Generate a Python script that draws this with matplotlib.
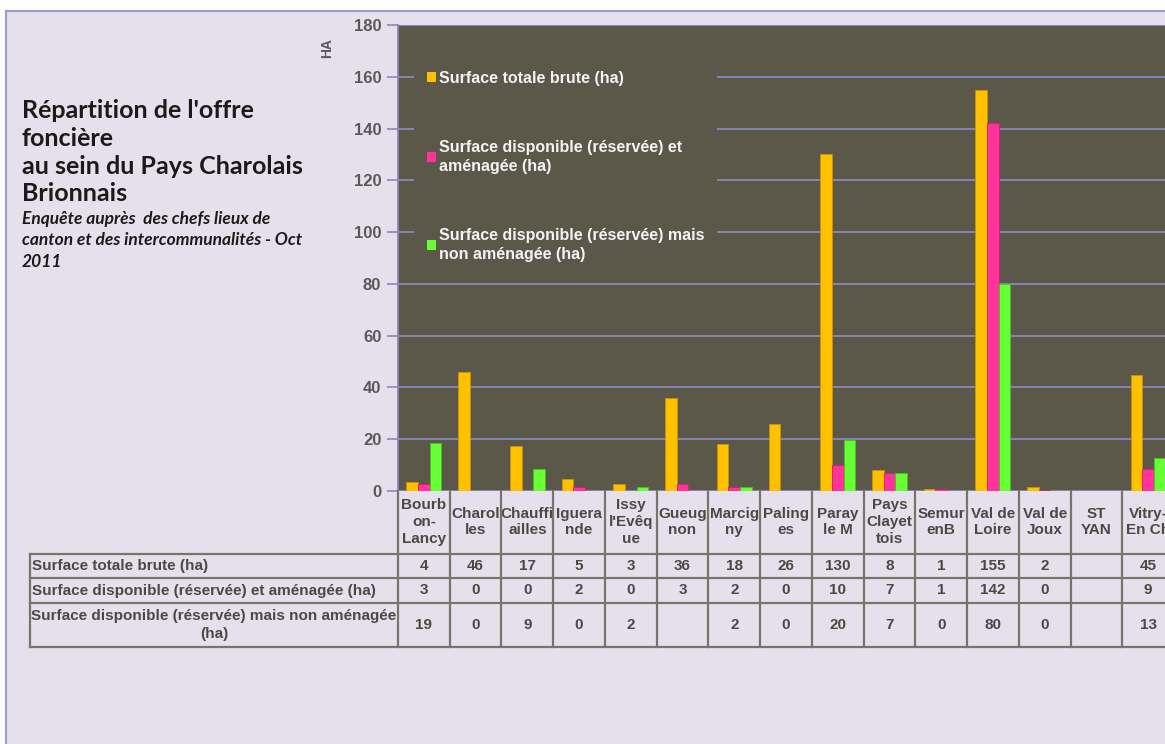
import numpy as np
import matplotlib
matplotlib.use("Agg")
from matplotlib import pyplot as plt
from matplotlib import transforms
from matplotlib.lines import Line2D
from matplotlib.patches import Patch, Rectangle

# values (bars); the table shows them rounded
communes = [
    "Bourb\non-\nLancy", "Charol\nles", "Chauffi\nailles", "Iguera\nnde",
    "Issy\nl'Evêq\nue", "Gueug\nnon", "Marcig\nny", "Paling\nes",
    "Paray\nle M", "Pays\nClayet\ntois", "Semur\nenB", "Val de\nLoire",
    "Val de\nJoux", "ST\nYAN", "Vitry-\nEn Ch",
]
surface_totale = [3.6, 46, 17.3, 4.6, 2.6, 36, 18, 26, 130, 8.1, 0.6, 155, 1.7, np.nan, 45]
surface_amenagee = [2.8, 0, 0, 1.7, 0, 2.8, 1.5, 0, 9.9, 6.9, 0.6, 142, 0.4, np.nan, 8.6]
surface_non_amenagee = [18.5, 0, 8.6, 0, 1.7, np.nan, 1.7, 0, 19.6, 6.9, 0, 80, 0, np.nan, 12.7]

legend_labels = [
    "Surface totale brute (ha)",
    "Surface disponible (réservée) et\naménagée (ha)",
    "Surface disponible (réservée) mais\nnon aménagée (ha)",
]
row_labels = [
    "Surface totale brute (ha)",
    "Surface disponible (réservée) et aménagée (ha)",
    "Surface disponible (réservée) mais non aménagée\n(ha)",
]
y_ticks = [0, 20, 40, 60, 80, 100, 120, 140, 160, 180]

colors = ["#ffc000", "#ff3399", "#66ff33"]
edge_colors = ["#c89400", "#d02070", "#4cc020"]
plot_bg = "#5b5749"
panel_bg = "#e6e0ec"
grid_col = "#8a88bc"
text_gray = "#595959"
table_col = "#77756a"

W, H = 1165, 744
fig = plt.figure(figsize=(W / 100, H / 100), dpi=100, facecolor="white")

# lavender panel with purple border
fig.add_artist(Rectangle((6 / W, -0.01), 1.0, 1 - 11 / H + 0.01, transform=fig.transFigure,
                         facecolor=panel_bg, edgecolor="#9c9ccc", linewidth=1.5, zorder=-5))

ax = fig.add_axes([398 / W, 1 - 491 / H, (1174 - 398) / W, (491 - 25) / H])
ax.set_facecolor(plot_bg)

x = np.arange(len(communes))
bw = 0.225
all_series = [surface_totale, surface_amenagee, surface_non_amenagee]
for k, vals in enumerate(all_series):
    ax.bar(x + (k - 1) * bw, vals, width=bw, color=colors[k], edgecolor=edge_colors[k],
           linewidth=0.6, zorder=3)

ax.set_xlim(-0.5, len(communes) - 0.5)
ax.set_ylim(0, 180)
ax.set_yticks(y_ticks)
ax.set_yticklabels([str(t) for t in y_ticks], fontsize=12, fontweight="bold", color=text_gray,
                   family="Liberation Sans")
ax.tick_params(axis="y", length=8, width=1.2, color=grid_col, pad=4)
ax.set_xticks([])
ax.yaxis.grid(True, color=grid_col, linewidth=1.3, zorder=1)
ax.set_axisbelow(True)
for side in ["top", "right", "bottom"]:
    ax.spines[side].set_visible(False)
ax.spines["left"].set_color(grid_col)
ax.spines["left"].set_linewidth(1.3)

fig.text(327 / W, 1 - 48 / H, "HA", rotation=90, ha="center", va="center", fontsize=10,
         fontweight="bold", color=text_gray, family="Liberation Sans")

handles = [Patch(facecolor=c, edgecolor="none") for c in colors]
leg = ax.legend(handles, legend_labels, loc="upper left", bbox_to_anchor=(414 / W, 1 - 58 / H),
                bbox_transform=fig.transFigure, frameon=True, facecolor=plot_bg, edgecolor="none",
                framealpha=1, fancybox=False, handlelength=0.55, handleheight=0.55,
                handletextpad=0.2, labelspacing=3.4, borderaxespad=0, borderpad=0.8,
                prop={"family": "Liberation Sans", "weight": "bold", "size": 11.5})
for t in leg.get_texts():
    t.set_color("#f4f4f4")
    t.set_linespacing(1.3)
leg.set_zorder(5)

# data table under the chart
def fy(px):
    return 1 - px / H

blend = transforms.blended_transform_factory(ax.transData, fig.transFigure)
rows_px = [491, 554, 578, 603, 647]
line_kw = dict(color=table_col, linewidth=1.6, clip_on=False, zorder=6)

for i in range(len(communes) + 1):
    ax.add_line(Line2D([i - 0.5, i - 0.5], [fy(491), fy(647)], transform=blend, **line_kw))
for r in rows_px[1:]:
    fig.add_artist(Line2D([30 / W, 1.01], [fy(r), fy(r)], transform=fig.transFigure, **line_kw))
fig.add_artist(Line2D([30 / W, 30 / W], [fy(554), fy(647)], transform=fig.transFigure, **line_kw))

txt_kw = dict(fontweight="bold", color="#4a4a44", family="Liberation Sans")
for i, name in enumerate(communes):
    ax.text(i, fy(522), name, transform=blend, ha="center", va="center", fontsize=11,
            linespacing=1.25, clip_on=False, **txt_kw)
    for j, vals in enumerate(all_series):
        v = vals[i]
        label = "" if np.isnan(v) else str(int(v + 0.5))
        ax.text(i, fy((rows_px[j + 1] + rows_px[j + 2]) / 2), label, transform=blend,
                ha="center", va="center", fontsize=11, clip_on=False, **txt_kw)

fig.text(32 / W, fy(566), row_labels[0], ha="left", va="center", fontsize=11, **txt_kw)
fig.text(32 / W, fy(591), row_labels[1], ha="left", va="center", fontsize=11, **txt_kw)
fig.text(214 / W, fy(625), row_labels[2], ha="center", va="center", fontsize=11,
         multialignment="center", linespacing=1.3, **txt_kw)

# title block
fig.text(22 / W, fy(99), "Répartition de l'offre\nfoncière\nau sein du Pays Charolais\nBrionnais",
         ha="left", va="top", fontsize=18, fontweight="bold", family="Lato", color="#1a1a1a",
         linespacing=1.25)
fig.text(22 / W, fy(211), "Enquête auprès  des chefs lieux de\ncanton et des intercommunalités - Oct\n2011",
         ha="left", va="top", fontsize=12.5, style="italic", fontweight="bold", family="Lato",
         color="#1a1a1a", linespacing=1.42)

fig.savefig("out.png", dpi=100, facecolor="white")
